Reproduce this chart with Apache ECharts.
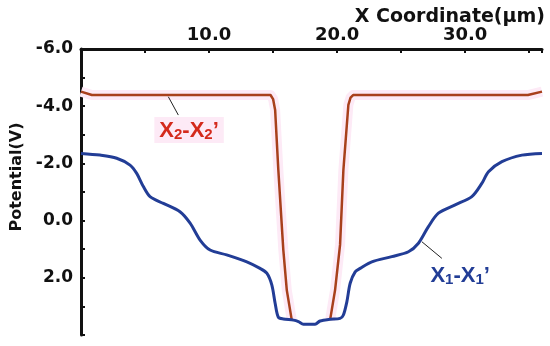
<!DOCTYPE html>
<html>
<head>
<meta charset="utf-8">
<script src="https://cdn.jsdelivr.net/npm/echarts@6/dist/echarts.min.js"></script>
<style>
html,body{margin:0;padding:0;background:#fff;}
#c{width:550px;height:346px;}
</style>
</head>
<body>
<div id="c"></div>
<script>
// ---- data ----
var blueX = [0, 1.48, 2.79, 3.83, 4.35, 4.87, 5.39, 6.43, 7.73, 8.52, 9.30, 10.08, 11.38, 12.95, 13.98, 14.51, 14.9, 15.16, 15.41, 15.8, 16.59, 16.98, 17.37, 18.28, 18.67, 19.45, 20.23, 20.49, 20.76, 21.02, 21.41, 21.8, 22.71, 24.27, 25.57, 26.35, 27.13, 27.91, 29.22, 30.52, 31.30, 31.82, 32.87, 34.43, 36.0];
var blueY = [-2.35, -2.29, -2.18, -1.94, -1.65, -1.19, -0.84, -0.60, -0.31, 0.09, 0.68, 1.03, 1.20, 1.44, 1.67, 1.84, 2.25, 2.89, 3.38, 3.44, 3.48, 3.53, 3.62, 3.62, 3.51, 3.45, 3.42, 3.30, 2.84, 2.19, 1.79, 1.67, 1.44, 1.26, 1.09, 0.79, 0.21, -0.26, -0.55, -0.84, -1.30, -1.71, -2.06, -2.29, -2.35];
var redLeftX = [0, 0.85, 14.8, 15.0, 15.16, 15.41, 15.8, 16.07, 16.46];
var redLeftY = [-4.51, -4.39, -4.39, -4.25, -3.87, -1.77, 1.03, 2.43, 3.48];
var redRightX = [19.45, 19.84, 20.23, 20.49, 20.88, 21.05, 21.25, 34.9, 36.0];
var redRightY = [3.48, 2.43, 0.85, -1.77, -4.05, -4.3, -4.39, -4.39, -4.51];
var xTickLabels = [10, 20, 30];
var yTickLabels = [-6, -4, -2, 0, 2];
var labelX2 = '{a|X}{s|2}{a|-X}{s|2}{a|\u2019}';
var labelX1 = '{a|X}{s|1}{a|-X}{s|1}{a|\u2019}';
var labelX2Pos = [8.44, -3.17];
var labelX1Pos = [29.61, 1.90];
var pointerX2 = [[6.82, -4.33], [7.60, -3.69]];
var pointerX1 = [[26.62, 0.74], [28.18, 1.32]];

function pairs(xs, ys) { return xs.map(function (x, i) { return [x, ys[i]]; }); }

var RED = '#a8401c', BLUE = '#223d96', PINK = '#fdeaf6';
var chart = echarts.init(document.getElementById('c'), null, {renderer: 'canvas'});

function pointer(p) {
  return {
    silent: true, symbol: ['none', 'none'],
    lineStyle: {color: '#222', width: 1, type: 'solid'},
    label: {show: false},
    data: [[{coord: p[0]}, {coord: p[1]}]]
  };
}
function richFor(color) {
  return {
    a: {color: color, fontFamily: 'Liberation Sans', fontWeight: 'bold', fontSize: 22, lineHeight: 24, verticalAlign: 'bottom'},
    s: {color: color, fontFamily: 'Liberation Sans', fontWeight: 'bold', fontSize: 15, lineHeight: 14, verticalAlign: 'bottom'}
  };
}

chart.setOption({
  animation: false,
  backgroundColor: '#fff',
  title: {
    text: 'X Coordinate(\u00b5m)', right: 0, top: 3,
    textStyle: {fontFamily: 'DejaVu Sans', fontWeight: 'bold', fontSize: 19, color: '#111'}
  },
  grid: {left: 81, top: 49, right: 8, bottom: 11, containLabel: false},
  xAxis: {
    type: 'value', position: 'top', min: 0, max: 36, interval: 5,
    axisLine: {show: true, onZero: false, lineStyle: {color: '#111', width: 3}},
    axisTick: {show: true, inside: true, length: 4, lineStyle: {color: '#111', width: 2}},
    splitLine: {show: false},
    axisLabel: {
      margin: 5, color: '#111', fontFamily: 'DejaVu Sans', fontWeight: 'bold', fontSize: 18,
      formatter: function (v) { return xTickLabels.indexOf(v) >= 0 ? v.toFixed(1) : ''; }
    }
  },
  yAxis: {
    type: 'value', inverse: true, min: -6, max: 4, interval: 1,
    name: 'Potential(V)', nameLocation: 'middle', nameGap: 55,
    nameTextStyle: {fontFamily: 'DejaVu Sans', fontWeight: 'bold', fontSize: 16, color: '#111', padding: [0, 0, 0, 30]},
    axisLine: {show: true, onZero: false, lineStyle: {color: '#111', width: 3}},
    axisTick: {show: true, inside: true, length: 4, lineStyle: {color: '#111', width: 2}},
    splitLine: {show: false},
    axisLabel: {
      margin: 8, color: '#111', fontFamily: 'DejaVu Sans', fontWeight: 'bold', fontSize: 17,
      formatter: function (v) { return yTickLabels.indexOf(v) >= 0 ? v.toFixed(1) : ''; }
    }
  },
  series: [
    {type: 'line', data: pairs(redLeftX, redLeftY), showSymbol: false, symbol: 'none', silent: true,
     lineStyle: {color: PINK, width: 10, cap: 'butt', join: 'round'}, z: 1},
    {type: 'line', data: pairs(redRightX, redRightY), showSymbol: false, symbol: 'none', silent: true,
     lineStyle: {color: PINK, width: 10, cap: 'butt', join: 'round'}, z: 1},
    {type: 'line', data: pairs(redLeftX, redLeftY), showSymbol: false, symbol: 'none',
     lineStyle: {color: RED, width: 2.5}, z: 3, markLine: pointer(pointerX2),
     markPoint: {
       symbol: 'circle', symbolSize: 1, itemStyle: {color: 'rgba(0,0,0,0)'},
       label: {show: true, position: 'inside', formatter: labelX2, rich: richFor('#d42a1c'),
               backgroundColor: PINK, padding: [1, 5, 1, 5]},
       data: [{coord: labelX2Pos}]
     }},
    {type: 'line', data: pairs(redRightX, redRightY), showSymbol: false, symbol: 'none',
     lineStyle: {color: RED, width: 2.5}, z: 3},
    {type: 'line', data: pairs(blueX, blueY), showSymbol: false, symbol: 'none', smooth: 0.3,
     lineStyle: {color: BLUE, width: 3}, z: 4, markLine: pointer(pointerX1),
     markPoint: {
       symbol: 'circle', symbolSize: 1, itemStyle: {color: 'rgba(0,0,0,0)'},
       label: {show: true, position: 'inside', formatter: labelX1, rich: richFor(BLUE)},
       data: [{coord: labelX1Pos}]
     }}
  ]
});
</script>
</body>
</html>
